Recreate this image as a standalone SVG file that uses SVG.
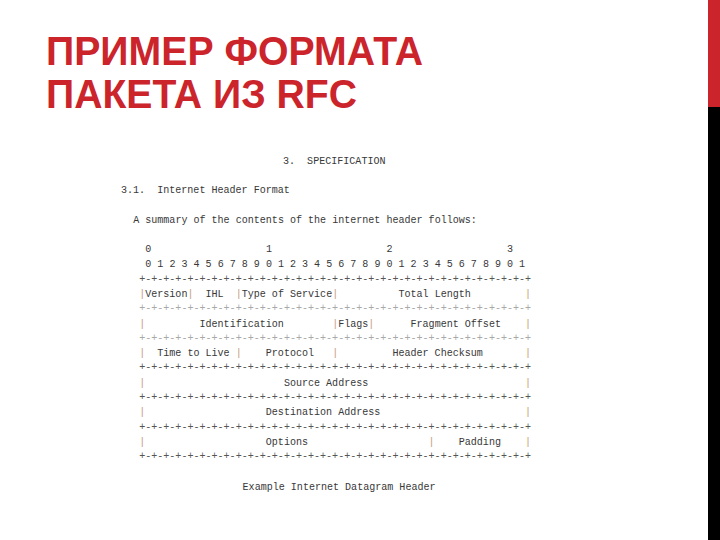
<svg xmlns="http://www.w3.org/2000/svg" width="720" height="540" viewBox="0 0 720 540">
<style>
.t{font-family:"Liberation Sans",Arial,sans-serif;font-weight:bold;font-size:40px;fill:#cc242b}
.m{font-family:"Liberation Mono","DejaVu Sans Mono",monospace;font-size:10.05px;fill:#383838;white-space:pre}
.s{fill:#555}
.f{fill:#a8a8a8}
.p{fill:#c49a76}
</style>
<rect x="0" y="0" width="720" height="540" fill="#ffffff"/>
<rect x="708" y="0" width="12" height="107" fill="#cc242b"/>
<rect x="708" y="107" width="12" height="433" fill="#000000"/>
<g id="title">
<text class="t" x="46" y="65" textLength="377" lengthAdjust="spacingAndGlyphs">ПРИМЕР ФОРМАТА</text>
<text class="t" x="46" y="108" textLength="311" lengthAdjust="spacingAndGlyphs">ПАКЕТА ИЗ RFC</text>
</g>
<g id="rfc">
<text class="m" xml:space="preserve" x="283" y="163.5">3.  SPECIFICATION</text>
<text class="m" xml:space="preserve" x="121" y="193.1">3.1.  Internet Header Format</text>
<text class="m" xml:space="preserve" x="133.2" y="222.8">A summary of the contents of the internet header follows:</text>
<text class="m" xml:space="preserve" x="145.3" y="252.4">0                   1                   2                   3</text>
<text class="m" xml:space="preserve" x="145.3" y="267.2">0 1 2 3 4 5 6 7 8 9 0 1 2 3 4 5 6 7 8 9 0 1 2 3 4 5 6 7 8 9 0 1</text>
<text class="m s" xml:space="preserve" x="139.2" y="281.5">+-+-+-+-+-+-+-+-+-+-+-+-+-+-+-+-+-+-+-+-+-+-+-+-+-+-+-+-+-+-+-+-+</text>
<text class="m" xml:space="preserve" x="139.2" y="296.9"><tspan class="p">|</tspan>Version<tspan class="p">|</tspan>  IHL  <tspan class="p">|</tspan>Type of Service<tspan class="p">|</tspan>          Total Length         <tspan class="p">|</tspan></text>
<text class="m f" xml:space="preserve" x="139.2" y="311.2">+-+-+-+-+-+-+-+-+-+-+-+-+-+-+-+-+-+-+-+-+-+-+-+-+-+-+-+-+-+-+-+-+</text>
<text class="m" xml:space="preserve" x="139.2" y="326.5"><tspan class="p">|</tspan>         Identification        <tspan class="p">|</tspan>Flags<tspan class="p">|</tspan>      Fragment Offset    <tspan class="p">|</tspan></text>
<text class="m f" xml:space="preserve" x="139.2" y="340.8">+-+-+-+-+-+-+-+-+-+-+-+-+-+-+-+-+-+-+-+-+-+-+-+-+-+-+-+-+-+-+-+-+</text>
<text class="m" xml:space="preserve" x="139.2" y="356.2"><tspan class="p">|</tspan>  Time to Live <tspan class="p">|</tspan>    Protocol   <tspan class="p">|</tspan>         Header Checksum       <tspan class="p">|</tspan></text>
<text class="m s" xml:space="preserve" x="139.2" y="370.4">+-+-+-+-+-+-+-+-+-+-+-+-+-+-+-+-+-+-+-+-+-+-+-+-+-+-+-+-+-+-+-+-+</text>
<text class="m" xml:space="preserve" x="139.2" y="385.8"><tspan class="p">|</tspan>                       Source Address                          <tspan class="p">|</tspan></text>
<text class="m s" xml:space="preserve" x="139.2" y="400">+-+-+-+-+-+-+-+-+-+-+-+-+-+-+-+-+-+-+-+-+-+-+-+-+-+-+-+-+-+-+-+-+</text>
<text class="m" xml:space="preserve" x="139.2" y="415.4"><tspan class="p">|</tspan>                    Destination Address                        <tspan class="p">|</tspan></text>
<text class="m s" xml:space="preserve" x="139.2" y="429.6">+-+-+-+-+-+-+-+-+-+-+-+-+-+-+-+-+-+-+-+-+-+-+-+-+-+-+-+-+-+-+-+-+</text>
<text class="m" xml:space="preserve" x="139.2" y="445.1"><tspan class="p">|</tspan>                    Options                    <tspan class="p">|</tspan>    Padding    <tspan class="p">|</tspan></text>
<text class="m s" xml:space="preserve" x="139.2" y="459.2">+-+-+-+-+-+-+-+-+-+-+-+-+-+-+-+-+-+-+-+-+-+-+-+-+-+-+-+-+-+-+-+-+</text>
<text class="m" xml:space="preserve" x="242.6" y="489.5">Example Internet Datagram Header</text>
</g>
</svg>
